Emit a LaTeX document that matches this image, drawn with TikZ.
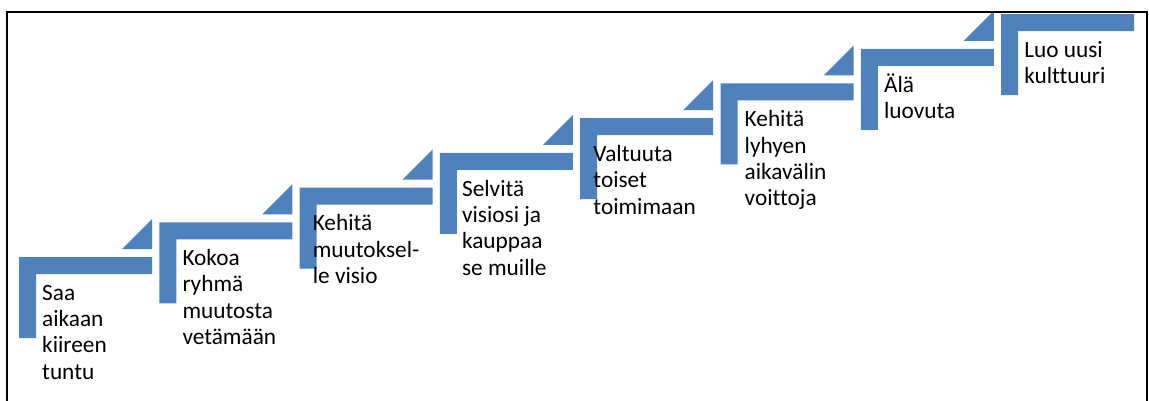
\documentclass[tikz,border=0pt]{standalone}
\usepackage{fontspec}
\setmainfont{Carlito}[Ligatures={NoCommon}]
\definecolor{stepblue}{HTML}{4F81BD}
\tikzset{
  steptext/.style={anchor=north west, inner sep=0pt, align=left,
    font=\fontsize{23.3}{26.4}\selectfont, text=black},
}
\begin{document}
\begin{tikzpicture}[x=1pt, y=-1pt]
  \useasboundingbox (0,0) rectangle (1149,401);
  \begin{scope}
    \clip (8,13) rectangle (1146,401);
    % bracket-shaped steps rising to the right, with a small wedge above each
    \foreach \i in {0,...,7} {
      \pgfmathsetmacro{\sx}{19+140.3*\i}
      \pgfmathsetmacro{\sy}{257-34.7*\i}
      \fill[stepblue] (\sx,\sy) -- ++(133,0) -- ++(0,17) -- ++(-116,0)
        -- ++(0,64) -- ++(-17,0) -- cycle;
      \ifnum\i<7
        \fill[stepblue] (\sx+103,\sy-8) -- (\sx+133,\sy-8) -- (\sx+133,\sy-38) -- cycle;
      \fi
    }
    % step labels
    \foreach \i/\dx/\txt in {
      0/6/{Saa\\aikaan\\kiireen\\tuntu},
      1/6/{Kokoa\\ryhmä\\muutosta\\vetämään},
      2/-4/{Kehitä\\muutoksel-\\le visio},
      3/5/{Selvitä\\visiosi ja\\kauppaa\\se muille},
      4/-4/{Valtuuta\\toiset\\toimimaan},
      5/7/{Kehitä\\lyhyen\\aikavälin\\voittoja},
      6/6/{Älä\\luovuta},
      7/6/{Luo uusi\\kulttuuri}} {
      \pgfmathsetmacro{\tx}{19+140.3*\i+17+\dx}
      \pgfmathsetmacro{\ty}{257-34.7*\i+24.5}
      \node[steptext] (t\i) at (\tx,\ty) {\strut\txt};
    }
  \end{scope}
  % open frame around the diagram
  \draw[line width=2pt] (7,402) -- (7,12) -- (1147,12) -- (1147,402);
\end{tikzpicture}
\end{document}
